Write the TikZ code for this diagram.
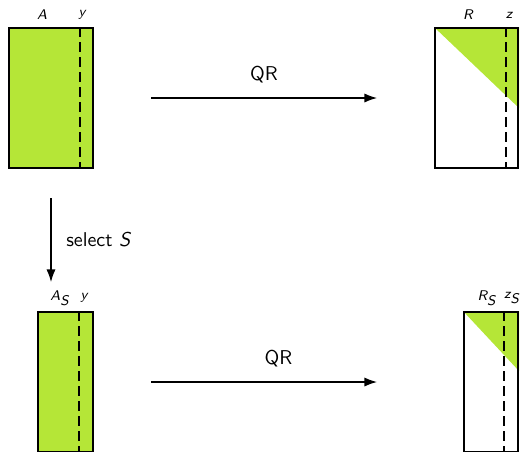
\documentclass[tikz,border=0pt]{standalone}
\usepackage{xcolor}
\usepackage{tikz}
\usetikzlibrary{arrows.meta,positioning,calc}
\renewcommand{\familydefault}{\sfdefault}
\newcommand{\mv}[1]{\textit{#1}}
\definecolor{matgreen}{RGB}{181,230,55}

\begin{document}
\begin{tikzpicture}[
  x=0.5pt, y=-0.5pt,
  every node/.style={font=\normalsize},
  mat/.style={draw, line width=1pt, inner sep=0pt, minimum width=42pt,
             minimum height=70pt},
  full/.style={mat, fill=matgreen},
  col/.style={dashed, line width=1pt, dash pattern=on 5pt off 2.5pt},
  lab/.style={font=\scriptsize, inner sep=0pt},
  arr/.style={-{Latex[length=2.2mm, width=1.6mm]}, line width=0.6pt},
]
\useasboundingbox (0,0) rectangle (522,451);

% full problem
\node[full] (A) at (51,98) {};
\draw[col] ($(A.north west)!0.833!(A.north east)$) -- ($(A.south west)!0.833!(A.south east)$);
\node[lab] (lA) at (42,15) {$\mv{A}$};
\node[lab] (ly) at (82,15) {$\mv{y}$};

\node[mat, minimum width=41.5pt] (R) at (476.5,98) {};
\fill[matgreen] (R.north west) -- (R.north east) -- ($(R.north east)+(0,81)$) -- cycle;
\draw[col] ($(R.north west)!0.845!(R.north east)$) -- ($(R.south west)!0.845!(R.south east)$);
\node[mat, minimum width=41.5pt] at (R) {};
\node[lab] (lR) at (468,15) {$\mv{R}$};
\node[lab] (lz) at (509,15) {$\mv{z}$};

% sketched problem
\node[full, minimum width=27.5pt] (AS) at (65.5,382) {};
\draw[col] ($(AS.north west)!0.745!(AS.north east)$) -- ($(AS.south west)!0.745!(AS.south east)$);
\node[lab] (lAS) at (60,298) {$\mv{A}_{\mv{S}}$};
\node[lab] (lyS) at (84,298) {$\mv{y}$};

\node[mat, minimum width=27pt] (RS) at (491,382) {};
\fill[matgreen] (RS.north west) -- (RS.north east) -- ($(RS.north east)+(0,60)$) -- cycle;
\draw[col] ($(RS.north west)!0.74!(RS.north east)$) -- ($(RS.south west)!0.74!(RS.south east)$);
\node[mat, minimum width=27pt] at (RS) {};
\node[lab] (lRS) at (487,298) {$\mv{R}_{\mv{S}}$};
\node[lab] (lzS) at (512,298) {$\mv{z}_{\mv{S}}$};

% arrows
\draw[arr, shorten <=28.5pt, shorten >=28.5pt] (A) -- node[above=4pt] {QR} (R);
\draw[arr, shorten <=28.5pt, shorten >=43pt] (AS) -- node[above=4pt] {QR} (RS);
\draw[arr, shorten <=14.5pt, shorten >=14.5pt] (A) -- node[right=4pt] {select $\mv{S}$} (AS.north -| A);
\end{tikzpicture}
\end{document}
